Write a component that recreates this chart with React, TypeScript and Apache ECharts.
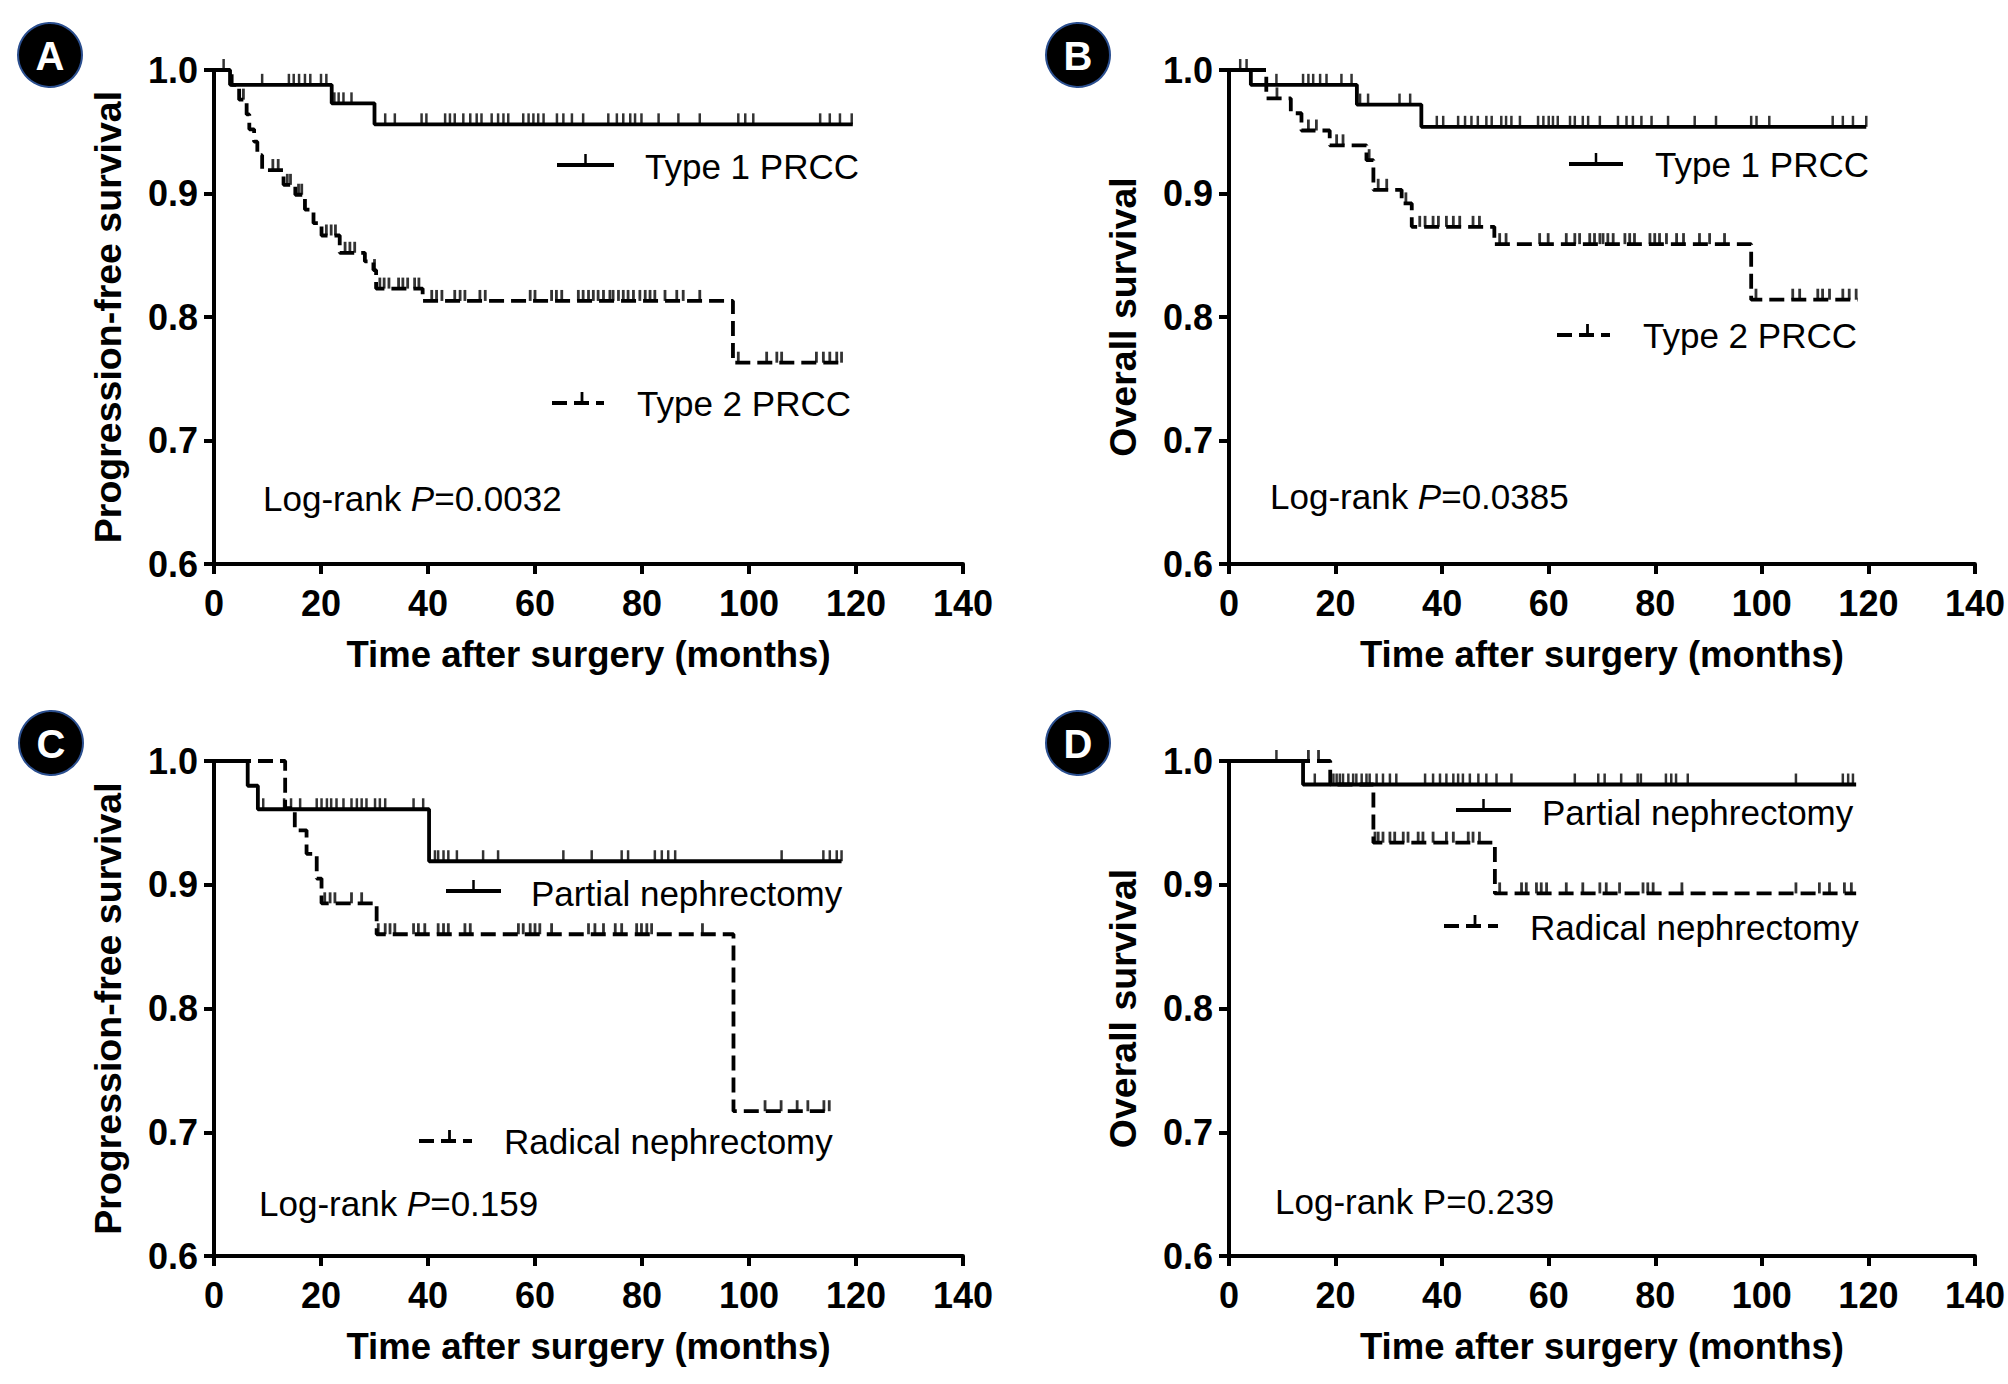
import React, { useEffect, useRef } from "react";
import * as echarts from "echarts";

// ---------- DATA (months, survival probability) ----------
const xMin = 0, xMax = 140, xStep = 20;
const yMin = 0.6, yMax = 1.0, yStep = 0.1;

// Panel A: Progression-free survival by type
const A_type1Steps = [[0, 1], [3, 0.988], [22, 0.973], [30, 0.956], [119.4, 0.956]];
const A_type1Cens = [1.8, 9, 14, 14.9, 15.9, 17, 18, 20, 21, 22.5, 23.3, 24.2, 25.7, 32, 33.8, 38.8, 39.7, 43.2, 44.1, 45, 46.6, 47.9, 49.1, 50, 51.9, 53.1, 54.1, 55, 57.8, 58.8, 59.7, 60.6, 61.6, 64.1, 65.3, 66.9, 69, 73.7, 75.3, 76.5, 77.8, 78.7, 79.9, 83.1, 86.8, 90.8, 98, 99.3, 100.8, 113.3, 115.1, 117, 119.2];
const A_type2Steps = [[0, 1], [3.3, 0.988], [4.7, 0.976], [6.1, 0.964], [6.6, 0.952], [7.5, 0.942], [8.1, 0.931], [9, 0.919], [13, 0.907], [15.2, 0.899], [17, 0.887], [18.6, 0.876], [20.1, 0.866], [23.5, 0.852], [28.2, 0.845], [29.8, 0.838], [30.3, 0.823], [39, 0.813], [97, 0.763], [117.3, 0.763]];
const A_type2Cens = [5.5, 11, 12, 13.7, 14.3, 15.8, 16.4, 21, 21.9, 22.7, 24.5, 25.4, 26.3, 30, 31, 31.8, 32.7, 34.5, 35.3, 36.2, 37.5, 38.3, 40.7, 41.6, 42.6, 45, 46, 46.9, 49.7, 50.7, 59.1, 60, 63.1, 64, 65, 68.1, 69, 70, 70.9, 71.8, 72.8, 74, 74.6, 75.6, 76.5, 77.4, 78.4, 79.6, 80.6, 81.5, 82.4, 84.3, 86.5, 87.7, 90.8, 98, 103.3, 105.2, 106.1, 112.6, 113.9, 115.1, 116.4, 117.3];

// Panel B: Overall survival by type
const B_type1Steps = [[0, 1], [4.1, 0.988], [24, 0.972], [36.1, 0.954], [119.6, 0.954]];
const B_type1Cens = [2.1, 3.3, 8.9, 13.9, 14.9, 15.8, 17.1, 18.3, 21.1, 23, 24.6, 26.1, 32, 34, 39, 40.2, 43, 44.3, 45.5, 46.7, 48.3, 49.3, 51.1, 52, 53, 54.6, 58, 59, 60, 60.8, 61.7, 64, 64.9, 66.4, 67.4, 69.6, 73, 74.6, 75.8, 77.4, 79.3, 82.4, 87.4, 91.4, 98, 99, 101.4, 113.3, 115.2, 117.1, 119.6];
const B_type2Steps = [[0, 1], [7, 0.977], [11.6, 0.965], [13.6, 0.951], [18.9, 0.939], [25.8, 0.927], [27.1, 0.903], [32.4, 0.892], [34.3, 0.873], [49.8, 0.859], [98, 0.814], [118, 0.814]];
const B_type2Cens = [9, 14.9, 16.4, 20.2, 21.4, 26.3, 28, 29.6, 33.2, 35.8, 36.8, 38.3, 39.3, 40.8, 42.1, 43.3, 45.8, 47, 50.8, 52, 58.3, 59.9, 63.3, 64.9, 65.8, 67.7, 68.6, 69.6, 70.2, 71.1, 72.1, 74.3, 75.2, 76.1, 79, 79.9, 80.8, 82.1, 84, 85.3, 88.3, 90.2, 93, 98.9, 105.8, 107.1, 110.5, 111.4, 112.7, 115.2, 116.4, 117.7];

// Panel C: Progression-free survival by surgery
const C_partialSteps = [[0, 1], [6.3, 0.98], [8.2, 0.961], [40.2, 0.919], [117.3, 0.919]];
const C_partialCens = [9.2, 13.1, 14.4, 16.1, 19.2, 20.1, 21.1, 21.9, 22.9, 24.2, 25.7, 26.7, 27.6, 28.5, 30.1, 31, 32, 37.3, 39.1, 41.3, 41.9, 42.9, 43.8, 45.4, 50.3, 53.1, 65.3, 70.6, 76.2, 77.4, 82.4, 83.7, 84.9, 86.2, 106.1, 113.9, 115.1, 116.4, 117.3];
const C_radicalSteps = [[0, 1], [13.3, 0.962], [15.1, 0.944], [17.3, 0.925], [19.2, 0.905], [20.1, 0.885], [30.4, 0.86], [97.1, 0.717], [115.1, 0.717]];
const C_radicalCens = [20.7, 21.7, 22.6, 25.7, 27.6, 30.7, 32, 32.9, 33.8, 37.3, 38.2, 39.4, 41.9, 42.9, 43.8, 46.9, 47.9, 56.9, 57.8, 59.1, 60, 60.9, 63.1, 70, 71.2, 72.8, 75, 76.2, 79, 79.9, 80.9, 81.8, 91.3, 103, 106, 109, 111, 114, 115];

// Panel D: Overall survival by surgery
const D_partialSteps = [[0, 1], [13.9, 0.981], [117.7, 0.981]];
const D_partialCens = [8.9, 16.1, 19.6, 20.2, 20.8, 21.4, 22.4, 23.3, 23.9, 24.9, 25.8, 26.4, 27.7, 28.9, 30.2, 31.4, 36.8, 38.3, 39.6, 40.8, 42.1, 43, 43.9, 45.2, 46.8, 48.3, 50.2, 53, 64.9, 69.3, 70.5, 73.6, 76.7, 77.3, 82, 83, 83.9, 86.1, 106.4, 115.2, 116.2, 117.1];
const D_radicalSteps = [[0, 1], [19, 0.981], [27.1, 0.934], [49.9, 0.893], [117.7, 0.893]];
const D_radicalCens = [14.9, 16.8, 27.4, 28, 28.9, 30.2, 31.1, 32.7, 33.6, 35.5, 36.4, 38.3, 40.8, 42.1, 44.9, 45.8, 47, 50.8, 54.9, 55.8, 57.7, 58.6, 59.6, 63.3, 66.4, 69.6, 70.8, 73.3, 77.7, 78.6, 79.6, 85, 106.4, 110.8, 112.7, 115.5, 116.8];

const panelLetters = ["A", "B", "C", "D"];
const yTitles = ["Progression-free survival", "Overall survival", "Progression-free survival", "Overall survival"];
const xTitle = "Time after surgery (months)";
const legendSolid = ["Type 1 PRCC", "Type 1 PRCC", "Partial nephrectomy", "Partial nephrectomy"];
const legendDashed = ["Type 2 PRCC", "Type 2 PRCC", "Radical nephrectomy", "Radical nephrectomy"];
const pValues = ["0.0032", "0.0385", "0.159", "0.239"];
const pItalic = [true, true, true, false];

// ---------- LAYOUT ----------
const FONT = "'Liberation Sans', Arial, Helvetica, sans-serif";
const grids = [
  { left: 214, top: 70, width: 749, height: 494 },
  { left: 1229, top: 70, width: 747, height: 494 },
  { left: 214, top: 761, width: 749, height: 495 },
  { left: 1229, top: 761, width: 747, height: 495 },
];
const circles = [
  { x: 50, y: 55 }, { x: 1078, y: 55 }, { x: 51, y: 743 }, { x: 1078, y: 743 },
];
const legendPos = [
  { s: { x1: 557, x2: 614, y: 165, tx: 645, ty: 166 }, d: { x1: 552, x2: 604, y: 403, tx: 637, ty: 403 } },
  { s: { x1: 1569, x2: 1623, y: 164, tx: 1655, ty: 164 }, d: { x1: 1557, x2: 1610, y: 335, tx: 1643, ty: 335 } },
  { s: { x1: 446, x2: 501, y: 891, tx: 531, ty: 893 }, d: { x1: 419, x2: 472, y: 1141, tx: 504, ty: 1141 } },
  { s: { x1: 1456, x2: 1511, y: 810, tx: 1542, ty: 812 }, d: { x1: 1444, x2: 1498, y: 926, tx: 1530, ty: 927 } },
];
const pPos = [
  { x: 263, y: 498 }, { x: 1270, y: 496 }, { x: 259, y: 1203 }, { x: 1275, y: 1201 },
];

const panels = [
  { solid: A_type1Steps, solidC: A_type1Cens, dashed: A_type2Steps, dashedC: A_type2Cens },
  { solid: B_type1Steps, solidC: B_type1Cens, dashed: B_type2Steps, dashedC: B_type2Cens },
  { solid: C_partialSteps, solidC: C_partialCens, dashed: C_radicalSteps, dashedC: C_radicalCens },
  { solid: D_partialSteps, solidC: D_partialCens, dashed: D_radicalSteps, dashedC: D_radicalCens },
];

function levelAt(steps: number[][], t: number): number {
  let v = steps[0][1];
  for (const [st, sv] of steps) {
    if (st <= t) v = sv;
  }
  return v;
}

const DASH = [15, 7];
const LINE_W = 3.8;

function buildOption() {
  const series: any[] = [];
  const xAxes: any[] = [];
  const yAxes: any[] = [];
  const graphics: any[] = [];

  panels.forEach((p, i) => {
    xAxes.push({
      gridIndex: i,
      type: "value",
      min: xMin,
      max: xMax,
      interval: xStep,
      axisLine: { show: true, lineStyle: { color: "#000", width: 4 } },
      axisTick: { show: true, length: 10, lineStyle: { color: "#000", width: 4 } },
      axisLabel: { color: "#000", fontSize: 36, fontWeight: "bold", fontFamily: FONT, margin: 21 },
      splitLine: { show: false },
      name: xTitle,
      nameLocation: "middle",
      nameGap: 72,
      nameTextStyle: { color: "#000", fontSize: 36.5, fontWeight: "bold", fontFamily: FONT },
    });
    yAxes.push({
      gridIndex: i,
      type: "value",
      min: yMin,
      max: yMax,
      interval: yStep,
      axisLine: { show: true, lineStyle: { color: "#000", width: 4 } },
      axisTick: { show: true, length: 10, lineStyle: { color: "#000", width: 4 } },
      axisLabel: {
        color: "#000", fontSize: 36, fontWeight: "bold", fontFamily: FONT, margin: 16,
        formatter: (v: number) => v.toFixed(1),
      },
      splitLine: { show: false },
      name: yTitles[i],
      nameLocation: "middle",
      nameGap: 87,
      nameTextStyle: { color: "#000", fontSize: 37.5, fontWeight: "bold", fontFamily: FONT },
    });

    series.push({
      type: "line",
      xAxisIndex: i,
      yAxisIndex: i,
      data: p.dashed,
      step: "end",
      showSymbol: false,
      symbol: "none",
      clip: false,
      lineStyle: { color: "#000", width: LINE_W, type: DASH },
      z: 2,
    });
    series.push({
      type: "scatter",
      xAxisIndex: i,
      yAxisIndex: i,
      data: p.dashedC.map((t) => [t, levelAt(p.dashed, t)]),
      symbol: "rect",
      symbolSize: [2.8, 11],
      symbolOffset: [0, -5.5],
      clip: false,
      itemStyle: { color: "#000" },
      z: 3,
    });
    series.push({
      type: "line",
      xAxisIndex: i,
      yAxisIndex: i,
      data: p.solid,
      step: "end",
      showSymbol: false,
      symbol: "none",
      clip: false,
      lineStyle: { color: "#000", width: LINE_W },
      z: 4,
    });
    series.push({
      type: "scatter",
      xAxisIndex: i,
      yAxisIndex: i,
      data: p.solidC.map((t) => [t, levelAt(p.solid, t)]),
      symbol: "rect",
      symbolSize: [2.5, 11],
      symbolOffset: [0, -5.5],
      clip: false,
      itemStyle: { color: "#000" },
      z: 5,
    });

    // panel letter badge
    const c = circles[i];
    graphics.push({
      type: "circle",
      shape: { cx: c.x, cy: c.y, r: 32 },
      style: { fill: "#000", stroke: "#2b4f8f", lineWidth: 2 },
      z: 10,
    });
    graphics.push({
      type: "text",
      x: c.x,
      y: c.y + 1,
      style: {
        text: panelLetters[i], fill: "#fff", fontSize: 40, fontWeight: "bold", fontFamily: FONT,
        align: "center", verticalAlign: "middle",
      },
      z: 11,
    });

    // legend
    const L = legendPos[i];
    graphics.push({
      type: "line",
      shape: { x1: L.s.x1, y1: L.s.y, x2: L.s.x2, y2: L.s.y },
      style: { stroke: "#000", lineWidth: LINE_W },
      z: 10,
    });
    graphics.push({
      type: "line",
      shape: { x1: (L.s.x1 + L.s.x2) / 2, y1: L.s.y, x2: (L.s.x1 + L.s.x2) / 2, y2: L.s.y - 11 },
      style: { stroke: "#000", lineWidth: 2.5 },
      z: 10,
    });
    graphics.push({
      type: "text",
      x: L.s.tx,
      y: L.s.ty,
      style: { text: legendSolid[i], fill: "#000", fontSize: 35, fontFamily: FONT, align: "left", verticalAlign: "middle" },
      z: 10,
    });
    graphics.push({
      type: "line",
      shape: { x1: L.d.x1, y1: L.d.y, x2: L.d.x2, y2: L.d.y },
      style: { stroke: "#000", lineWidth: LINE_W, lineDash: DASH },
      z: 10,
    });
    graphics.push({
      type: "line",
      shape: { x1: (L.d.x1 + L.d.x2) / 2 + 4, y1: L.d.y, x2: (L.d.x1 + L.d.x2) / 2 + 4, y2: L.d.y - 11 },
      style: { stroke: "#000", lineWidth: 2.8 },
      z: 10,
    });
    graphics.push({
      type: "text",
      x: L.d.tx,
      y: L.d.ty,
      style: { text: legendDashed[i], fill: "#000", fontSize: 35, fontFamily: FONT, align: "left", verticalAlign: "middle" },
      z: 10,
    });

    // log-rank text
    const pp = pPos[i];
    graphics.push({
      type: "text",
      x: pp.x,
      y: pp.y,
      style: {
        text: `{n|Log-rank }{${pItalic[i] ? "it" : "n"}|P}{n|=${pValues[i]}}`,
        align: "left",
        verticalAlign: "middle",
        rich: {
          n: { fontSize: 35, fontFamily: FONT, fill: "#000" },
          it: { fontSize: 35, fontFamily: FONT, fill: "#000", fontStyle: "italic" },
        },
      },
      z: 10,
    });
  });

  return {
    animation: false,
    backgroundColor: "#fff",
    grid: grids.map((g) => ({ ...g, containLabel: false })),
    xAxis: xAxes,
    yAxis: yAxes,
    series,
    graphic: graphics,
  };
}

export default function App() {
  const ref = useRef<HTMLDivElement>(null);
  useEffect(() => {
    document.body.style.margin = "0";
    const chart = echarts.init(ref.current!, null, { renderer: "svg" });
    chart.setOption(buildOption() as any);
    return () => chart.dispose();
  }, []);
  return <div ref={ref} style={{ width: 2008, height: 1384 }} />;
}
